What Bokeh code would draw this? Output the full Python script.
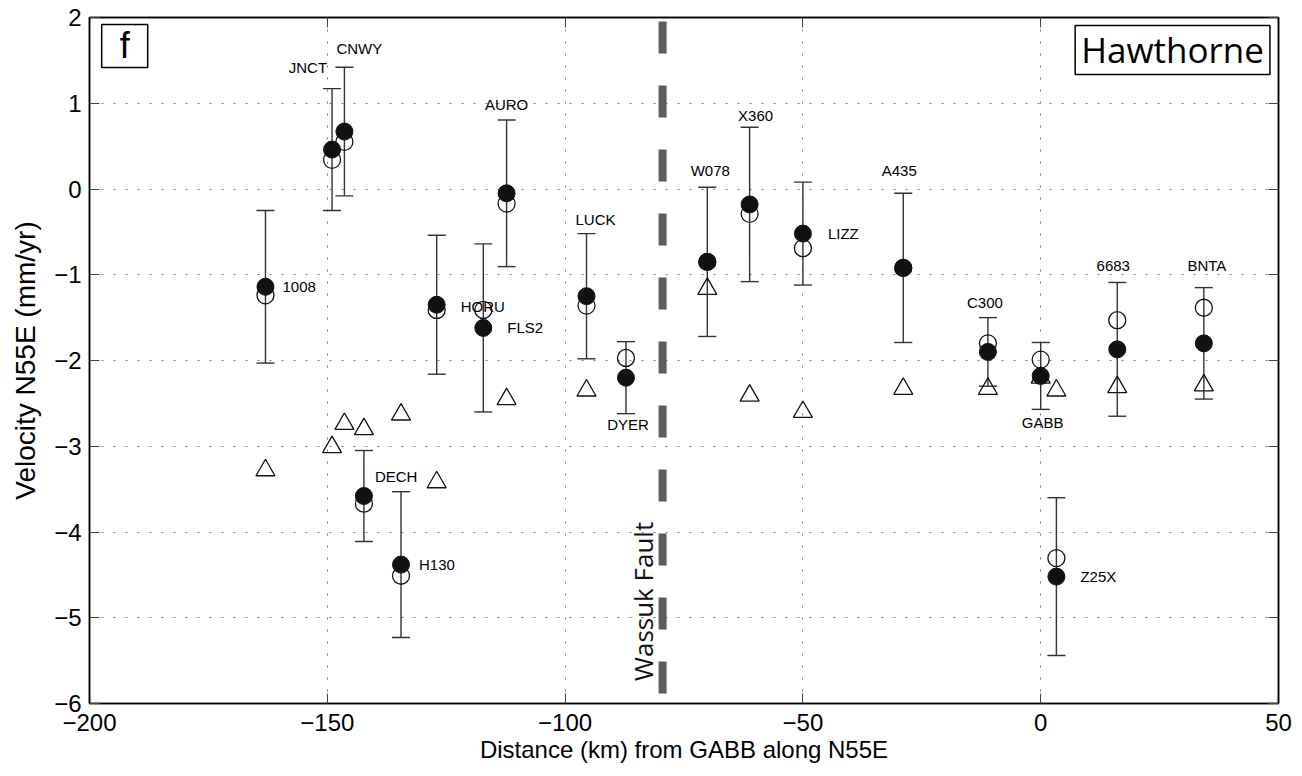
import math
from bokeh.plotting import figure
from bokeh.models import (ColumnDataSource, Whisker, TeeHead, LinearAxis, Label,
                          FixedTicker, CustomJSTickFormatter, Range1d)
from bokeh.core.properties import value
from bokeh.embed import file_html
from bokeh.resources import INLINE

# ---------------- data ----------------
stations = ["1008", "JNCT", "CNWY", "AURO", "HORU", "FLS2", "DECH", "H130", "LUCK", "DYER",
            "W078", "X360", "LIZZ", "A435", "C300", "GABB", "6683", "BNTA", "Z25X"]
distance_km = [-163.0, -149.0, -146.4, -112.3, -127.0, -117.2, -142.3, -134.5, -95.5, -87.2,
               -70.1, -61.2, -50.0, -28.9, -11.1, 0.0, 16.1, 34.3, 3.3]
vel_gps = [-1.14, 0.46, 0.67, -0.05, -1.35, -1.62, -3.58, -4.38, -1.25, -2.20,
           -0.85, -0.18, -0.52, -0.92, -1.90, -2.18, -1.87, -1.80, -4.52]
sigma_gps = [0.89, 0.71, 0.75, 0.855, 0.81, 0.98, 0.53, 0.85, 0.73, 0.42,
             0.87, 0.90, 0.60, 0.87, 0.40, 0.39, 0.78, 0.65, 0.92]
vel_model_a = [-1.24, 0.34, 0.55, -0.17, -1.41, -1.41, -3.67, -4.51, -1.36, -1.97,
               -0.85, -0.29, -0.69, -0.92, -1.80, -1.99, -1.53, -1.385, -4.305]
vel_model_b = [-3.28, -3.01, -2.74, -2.45, -3.42, float("nan"), -2.80, -2.63, -2.35, float("nan"),
               -1.165, -2.41, -2.60, -2.33, -2.33, -2.20, -2.31, -2.29, -2.35]

fault_x = -79.5
fault_y_top = 1.953
fault_y_bottom = -5.883
fault_label_y = -4.81

x_ticks = [-200, -150, -100, -50, 0, 50]
y_ticks = [-6, -5, -4, -3, -2, -1, 0, 1, 2]

# ---------------- label layout (align, x offset px, y offset px) ----------------
label_layout = {
    "1008": ("left", 17, 0), "JNCT": ("right", -5, -82), "CNWY": ("left", -8, -83),
    "AURO": ("center", 0, -89), "HORU": ("left", 24, 2), "FLS2": ("left", 24, 0),
    "DECH": ("left", 11, -19), "H130": ("left", 18, 0), "LUCK": ("left", -11, -77),
    "DYER": ("center", 2, 47), "W078": ("center", 3, -91), "X360": ("center", 6, -89),
    "LIZZ": ("left", 25, 0), "A435": ("center", -4, -97), "C300": ("center", -3, -49),
    "GABB": ("center", 2, 47), "6683": ("center", -4, -83), "BNTA": ("center", 3, -78),
    "Z25X": ("left", 24, 0),
}

FONT = "Liberation Sans"
FONT2 = "Open Sans"

p = figure(width=1296, height=776, output_backend="svg", toolbar_location=None,
           x_range=Range1d(-200, 50), y_range=Range1d(-6, 2),
           min_border_left=89, min_border_right=18, min_border_top=17, min_border_bottom=73)
p.background_fill_color = "white"
p.border_fill_color = "white"
p.outline_line_color = "black"
p.outline_line_width = 1.5

xt = FixedTicker(ticks=x_ticks)
yt = FixedTicker(ticks=y_ticks)

for ax in (p.xaxis[0], p.yaxis[0]):
    ax.axis_line_color = "black"
    ax.axis_line_width = 1.5
    ax.major_tick_in = 10
    ax.major_tick_out = 0
    ax.major_tick_line_color = "#444444"
    ax.minor_tick_line_color = None
    ax.major_label_text_font = FONT
    ax.major_label_text_font_size = "24px"
    ax.major_label_text_color = "black"
    ax.axis_label_text_font = FONT
    ax.axis_label_text_font_style = "normal"
    ax.axis_label_text_color = "black"

p.xaxis[0].ticker = xt
p.yaxis[0].ticker = yt
p.xaxis[0].major_label_standoff = 10
p.yaxis[0].major_label_standoff = 8
p.xaxis[0].axis_label = "Distance (km) from GABB along N55E"
p.xaxis[0].axis_label_text_font_size = "24px"
p.xaxis[0].axis_label_standoff = 2
p.yaxis[0].axis_label = "Velocity N55E (mm/yr)"
p.yaxis[0].axis_label_text_font_size = "28px"
p.yaxis[0].axis_label_standoff = 10

blank = CustomJSTickFormatter(code="return ''")
top_ax = LinearAxis(ticker=xt, formatter=blank, major_tick_in=10, major_tick_out=0,
                    minor_tick_line_color=None, axis_line_color="black", axis_line_width=1.5,
                    major_tick_line_color="#444444", major_label_standoff=0)
right_ax = LinearAxis(ticker=yt, formatter=blank, major_tick_in=10, major_tick_out=0,
                      minor_tick_line_color=None, axis_line_color="black", axis_line_width=1.5,
                      major_tick_line_color="#444444", major_label_standoff=0)
p.add_layout(top_ax, "above")
p.add_layout(right_ax, "right")

p.xgrid.ticker = xt
p.ygrid.ticker = yt
for g in (p.xgrid[0], p.ygrid[0]):
    g.grid_line_color = "#7a7a7a"
    g.grid_line_dash = "2 10"
    g.grid_line_width = 1

# fault
p.segment(x0=[fault_x], y0=[fault_y_top], x1=[fault_x], y1=[fault_y_bottom],
          line_width=8, line_color="#5c5c5c", line_dash="32 32", line_cap="butt")
p.text(x=[fault_x], y=[fault_label_y], text=["Wassuk Fault"], x_offset=-20, angle=math.pi / 2,
       text_align="center", text_baseline="middle", text_font=value(FONT2),
       text_font_size="26px", text_color="#111111")

# error bars
upper = [v + s for v, s in zip(vel_gps, sigma_gps)]
lower = [v - s for v, s in zip(vel_gps, sigma_gps)]
src = ColumnDataSource(dict(x=distance_km, gps=vel_gps, upper=upper, lower=lower,
                            ma=vel_model_a, mb=vel_model_b, name=stations))
wh = Whisker(source=src, base="x", upper="upper", lower="lower", dimension="height",
             line_color="#333333", line_width=1.4,
             upper_head=TeeHead(size=18, line_color="#333333", line_width=1.4),
             lower_head=TeeHead(size=18, line_color="#333333", line_width=1.4))
p.add_layout(wh)

p.scatter("x", "mb", source=src, marker="triangle", size=19, fill_color=None,
          line_color="#111111", line_width=1.3)
p.scatter("x", "ma", source=src, marker="circle", size=17, fill_color=None,
          line_color="#111111", line_width=1.3)
p.scatter("x", "gps", source=src, marker="circle", size=17, fill_color="#111111",
          line_color="#111111", line_width=1)

# station labels
for align in ("left", "center", "right"):
    names = [s for s in stations if label_layout[s][0] == align]
    idx = [stations.index(s) for s in names]
    lsrc = ColumnDataSource(dict(
        x=[distance_km[i] for i in idx], y=[vel_gps[i] for i in idx], name=names,
        xo=[label_layout[s][1] for s in names], yo=[label_layout[s][2] for s in names]))
    p.text(x="x", y="y", text="name", x_offset="xo", y_offset="yo", source=lsrc,
           text_align=align, text_baseline="middle", text_font=value(FONT),
           text_font_size="15px", text_color="black")

# panel labels
p.add_layout(Label(x=-192.6, y=1.668, text="f", text_align="center", text_baseline="middle",
                   text_font=FONT, text_font_size="36px", text_color="black",
                   border_line_color="black", border_line_width=1.5,
                   background_fill_color="white",
                   padding=dict(left=18, right=18, top=1, bottom=1)))
p.add_layout(Label(x=48.2, y=1.621, text="Hawthorne", text_align="right", text_baseline="middle",
                   text_font=FONT2, text_font_size="35px", text_color="black",
                   border_line_color="black", border_line_width=1.5,
                   background_fill_color="white",
                   padding=dict(left=6, right=6, top=1, bottom=1)))

open("out.html", "w").write(file_html(p, INLINE))
